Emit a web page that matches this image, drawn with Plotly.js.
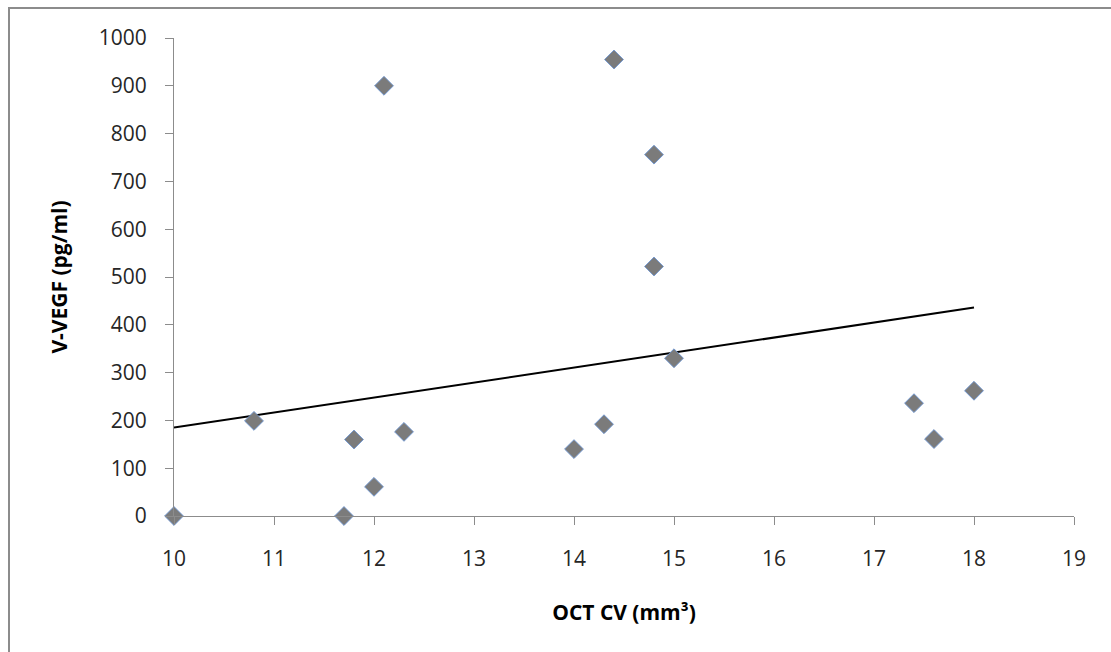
<!DOCTYPE html>
<html>
<head>
<meta charset="utf-8">
<script src="https://cdn.plot.ly/plotly-3.0.1.min.js"></script>
<style>
  html, body { margin: 0; padding: 0; background: #fff; }
  #wrap { position: relative; width: 1111px; height: 652px; overflow: hidden; }
  #chart { position: absolute; left: 0; top: 0; width: 1111px; height: 652px; }
  #frame { position: absolute; left: 8px; top: 7px; width: 1200px; height: 800px;
           border-left: 2px solid #8c8c8c; border-top: 2px solid #8c8c8c; pointer-events: none; }
</style>
</head>
<body>
<div id="wrap">
  <div id="chart"></div>
  <div id="frame"></div>
</div>
<script>
// Data
const octCV = [10.0, 10.8, 11.7, 11.8, 12.0, 12.1, 12.3, 14.0, 14.3, 14.4, 14.8, 14.8, 15.0, 17.4, 17.6, 18.0];
const vVEGF = [0, 199, 0, 160, 61, 900, 176, 140, 192, 955, 756, 522, 330, 236, 161, 262];
const trendX = [10, 18];
const trendY = [185, 436];
const xTicks = [10, 11, 12, 13, 14, 15, 16, 17, 18, 19];
const yTicks = [0, 100, 200, 300, 400, 500, 600, 700, 800, 900, 1000];

const fontFam = 'Open Sans, Liberation Sans, sans-serif';

const traces = [
  {
    x: trendX, y: trendY, type: 'scatter', mode: 'lines',
    line: { color: '#000000', width: 2 }, hoverinfo: 'skip', showlegend: false
  },
  {
    x: octCV, y: vVEGF, type: 'scatter', mode: 'markers',
    marker: { symbol: 'diamond', size: 14.5, color: '#7b7b7b',
              line: { color: 'rgba(110,150,210,0.9)', width: 1 } },
    showlegend: false, cliponaxis: false
  }
];

const layout = {
  width: 1111, height: 652,
  margin: { l: 174, r: 37, t: 38, b: 136 },
  paper_bgcolor: '#ffffff', plot_bgcolor: '#ffffff',
  font: { family: fontFam, color: '#262626', size: 21 },
  showlegend: false,
  xaxis: {
    range: [10, 19], tickvals: xTicks, ticktext: xTicks.map(String),
    showgrid: false, zeroline: false, showline: true, linecolor: '#8c8c8c', linewidth: 1,
    ticks: 'outside', ticklen: 8, tickcolor: '#8c8c8c', tickwidth: 1,
    ticklabelstandoff: 16,
    tickfont: { family: fontFam, size: 21, color: '#262626' },
    title: { text: '<b>OCT CV (mm³)</b>', font: { family: fontFam, size: 21, color: '#000' }, standoff: 34 }
  },
  yaxis: {
    range: [0, 1000], tickvals: yTicks, ticktext: yTicks.map(String),
    showgrid: false, zeroline: false, showline: true, linecolor: '#8c8c8c', linewidth: 1,
    ticks: 'outside', ticklen: 8, tickcolor: '#8c8c8c', tickwidth: 1,
    ticklabelstandoff: 14,
    tickfont: { family: fontFam, size: 21, color: '#262626' },
    title: { text: '<b>V-VEGF (pg/ml)</b>', font: { family: fontFam, size: 21, color: '#000' }, standoff: 25 }
  }
};

Plotly.newPlot('chart', traces, layout, { displayModeBar: false, staticPlot: true });
</script>
</body>
</html>
